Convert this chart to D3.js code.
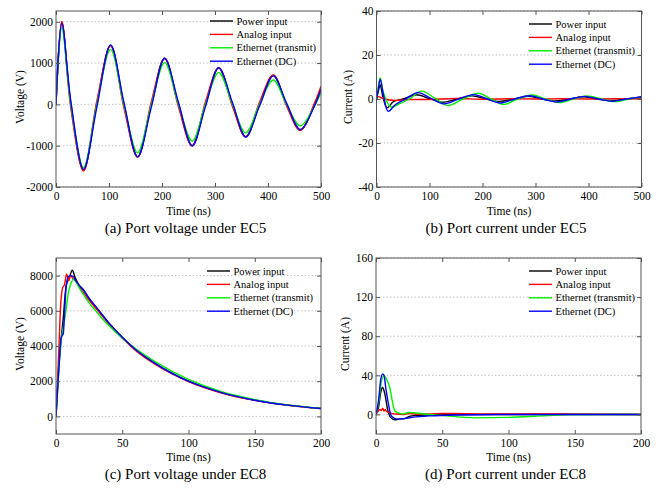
<!DOCTYPE html>
<html>
<head>
<meta charset="utf-8">
<script src="https://cdn.jsdelivr.net/npm/d3@7"></script>
<style>
  body { margin: 0; background: #fff; }
  svg { display: block; }
  svg text { font-family: "Liberation Serif", "DejaVu Serif", serif !important; fill: #000; }
</style>
</head>
<body>
<svg id="chart" width="661" height="489"></svg>
<script>
// series names / colours
var names = ["Power input", "Analog input", "Ethernet (transmit)", "Ethernet (DC)"];
var colors = ["#000000", "#ff0000", "#00ee00", "#0000ff"];

// (a) port voltage under EC5
var aTime   = [0, 11, 28, 52, 77, 103, 128, 154, 180, 205, 231, 257, 282, 307, 333, 358, 384, 410, 435, 461, 488, 500];
var aPower  = [0, 1990, 0, -1590, 0, 1430, 0, -1270, 0, 1110, 0, -1000, 0, 880, 0, -780, 0, 700, 0, -620, 0, 390];
var aAnalog = [0, 2010, -90, -1610, 80, 1420, -70, -1280, 70, 1120, -60, -1010, 60, 890, -50, -790, 50, 710, -40, -630, 40, 440];
var aEthTx  = [0, 1850, 0, -1530, 0, 1330, 0, -1170, 0, 1010, 0, -890, 0, 770, 0, -690, 0, 590, 0, -520, -30, 290];
var aEthDc  = [0, 1960, 80, -1570, -70, 1440, 60, -1270, -60, 1120, 50, -1000, -50, 890, 40, -790, -40, 690, 30, -610, -30, 370];

// (b) port current under EC5
var bPowerT  = [0, 3, 7, 12, 20, 32, 50, 75, 100, 124, 152, 180, 206, 232, 258, 285, 312, 338, 364, 390, 416, 443, 470, 500];
var bPowerV  = [0, 3, 6.5, 1, -4, -1.2, 0, 1.9, 0.2, -1.5, 0, 1.4, 0.1, -1.1, 0, 1.2, 0, -0.9, 0, 1.0, 0, -0.7, 0, 0.8];
var bAnalogT = [0, 5, 15, 30, 60, 100, 150, 200, 250, 300, 350, 400, 450, 500];
var bAnalogV = [1.2, 1.0, 0, -0.6, -0.3, -0.2, 0.2, -0.1, 0.1, 0, 0.1, 0, 0.1, 0];
var bEthTxT  = [0, 3, 7, 13, 27, 45, 62, 85, 110, 135, 163, 192, 216, 240, 266, 293, 319, 345, 371, 398, 424, 450, 476, 500];
var bEthTxV  = [0, 4.5, 9.7, 3, -3.6, -2, 0, 3.6, 0.4, -3.0, 0, 2.6, 0, -2.5, 0, 1.8, 0, -1.6, 0, 1.4, 0, -1.2, 0, 1.0];
var bEthDcT  = [0, 3, 7, 13, 22, 36, 55, 78, 102, 127, 155, 184, 209, 234, 261, 288, 314, 340, 366, 393, 419, 445, 472, 500];
var bEthDcV  = [0, 4, 9, 2, -5.6, -2.5, 0, 2.9, 0.4, -2.2, 0, 2.0, 0, -1.8, 0, 1.5, 0, -1.3, 0, 1.2, 0, -1.0, 0, 1.0];

// (c) port voltage under EC8
var cPowerT  = [0, 2, 5.5, 7.6, 10.3, 12.3, 14.4, 17, 20.7, 25, 30, 35, 40, 50, 60, 75, 100, 125, 150, 175, 200];
var cPowerV  = [0, 2800, 5600, 7400, 7950, 8300, 7900, 7500, 7200, 6700, 6200, 5750, 5300, 4500, 3800, 3000, 2000, 1350, 930, 640, 450];
var cAnalogT = [0, 2, 3.5, 5, 6.5, 8, 9.5, 11, 13, 15.6, 18, 21, 25, 30, 40, 50, 60, 75, 100, 125, 150, 175, 200];
var cAnalogV = [0, 3500, 6300, 7300, 7500, 8100, 7700, 8000, 7800, 7650, 7300, 7000, 6600, 6150, 5250, 4450, 3750, 2950, 1980, 1330, 910, 630, 440];
var cEthTxT  = [0, 2, 4, 6.9, 9.4, 11.5, 13.2, 15, 18, 21, 25, 30, 35, 40, 50, 60, 75, 100, 125, 150, 175, 200];
var cEthTxV  = [0, 2500, 4300, 5700, 7050, 7600, 7800, 7650, 7250, 6900, 6450, 6000, 5550, 5150, 4450, 3850, 3100, 2100, 1400, 950, 650, 450];
var cEthDcT  = [0, 2, 4, 5.5, 6.5, 7.6, 9.4, 11, 13, 15, 18, 21, 25, 30, 40, 50, 60, 75, 100, 125, 150, 175, 200];
var cEthDcV  = [0, 2500, 4500, 4700, 6000, 7300, 7950, 8000, 7950, 7700, 7400, 7150, 6700, 6250, 5300, 4500, 3800, 3000, 2000, 1350, 920, 640, 450];

// (d) port current under EC8
var dPowerT  = [0, 2, 3.5, 5, 6.5, 8.8, 11, 14.4, 18, 21, 25, 30, 40, 60, 100, 150, 200];
var dPowerV  = [0, 8, 22, 27.5, 22, 5, -3, -5.5, -4.5, -4.5, -2, -1, -0.5, 0, 0, 0, 0];
var dAnalogT = [0, 1.5, 3, 4, 5, 6, 7, 8, 10, 12, 15, 20, 25, 30, 40, 50, 60, 80, 100, 130, 200];
var dAnalogV = [0, 3, 5, 4, 6.5, 3.5, 5, 3, 2, 1, 0.5, 0, 1, 0.5, 0.5, 1, 1, 0.5, 0.5, 0.5, 0];
var dEthTxT  = [0, 2, 4, 6, 8, 10.6, 12.5, 14.4, 17, 20, 25, 30, 40, 50, 75, 100, 125, 150, 200];
var dEthTxV  = [0, 12, 33, 40, 36, 26, 12, 3.5, 1.5, 0.5, 2, 1.5, 0, -1, -3.5, -3, -1.5, 0, 0];
var dEthDcT  = [0, 2, 3.5, 5, 6, 7.5, 9.5, 11.3, 14, 17, 22, 30, 40, 60, 100, 150, 200];
var dEthDcV  = [0, 15, 35, 41.5, 40, 26, 10, -1, -4, -4.8, -4, -2.5, -1.5, -0.5, 0, 0, 0];

function zip(t, v) { return t.map(function(d, i) { return [d, v[i]]; }); }

var panels = [
  { id: "a", left: 56, right: 321, top: 11, bottom: 187, xMax: 500, xTicks: [0, 100, 200, 300, 400, 500],
    yDom: [-2000, 2260], yTicks: [-2000, -1000, 0, 1000, 2000], yLabel: "Voltage (V)", yLabelX: 23.5,
    caption: "(a) Port voltage under EC5", xLabY: 215, capY: 233, legX: 210, legY: 21, curve: d3.curveCatmullRom.alpha(0.5),
    series: [zip(aTime, aPower), zip(aTime, aAnalog), zip(aTime, aEthTx), zip(aTime, aEthDc)] },
  { id: "b", left: 376.5, right: 641.5, top: 11, bottom: 187, xMax: 500, xTicks: [0, 100, 200, 300, 400, 500],
    yDom: [-40, 40], yTicks: [-40, -20, 0, 20, 40], yLabel: "Current (A)", yLabelX: 352,
    caption: "(b) Port current under EC5", xLabY: 215, capY: 233, legX: 529, legY: 24, curve: d3.curveCatmullRom.alpha(0.5),
    series: [zip(bPowerT, bPowerV), zip(bAnalogT, bAnalogV), zip(bEthTxT, bEthTxV), zip(bEthDcT, bEthDcV)] },
  { id: "c", left: 56, right: 321, top: 258, bottom: 434, xMax: 200, xTicks: [0, 50, 100, 150, 200],
    yDom: [-1000, 9000], yTicks: [0, 2000, 4000, 6000, 8000], yLabel: "Voltage (V)", yLabelX: 23.5,
    caption: "(c) Port voltage under EC8", xLabY: 461, capY: 479, legX: 207, legY: 271, curve: d3.curveMonotoneX,
    series: [zip(cPowerT, cPowerV), zip(cAnalogT, cAnalogV), zip(cEthTxT, cEthTxV), zip(cEthDcT, cEthDcV)] },
  { id: "d", left: 376, right: 641, top: 258, bottom: 434, xMax: 200, xTicks: [0, 50, 100, 150, 200],
    yDom: [-20, 160], yTicks: [0, 40, 80, 120, 160], yLabel: "Current (A)", yLabelX: 349,
    caption: "(d) Port current under EC8", xLabY: 461, capY: 479, legX: 529, legY: 271, curve: d3.curveMonotoneX,
    series: [zip(dPowerT, dPowerV), zip(dAnalogT, dAnalogV), zip(dEthTxT, dEthTxV), zip(dEthDcT, dEthDcV)] }
];

var svg = d3.select("#chart");
var serif = "'Liberation Serif', 'DejaVu Serif', serif";

panels.forEach(function(p) {
  var w = p.right - p.left, h = p.bottom - p.top;
  var x = d3.scaleLinear().domain([0, p.xMax]).range([0, w]);
  var y = d3.scaleLinear().domain(p.yDom).range([h, 0]);
  var g = svg.append("g").attr("transform", "translate(" + p.left + "," + p.top + ")");

  // dotted y grid
  g.append("g").selectAll("line").data(p.yTicks).enter().append("line")
    .attr("x1", 0).attr("x2", w)
    .attr("y1", function(d) { return y(d); }).attr("y2", function(d) { return y(d); })
    .attr("stroke", "#aaa").attr("stroke-width", 0.7).attr("stroke-dasharray", "1.5,2");

  // curves
  g.append("clipPath").attr("id", "clip" + p.id).append("rect").attr("width", w).attr("height", h);
  var line = d3.line().x(function(d) { return x(d[0]); }).y(function(d) { return y(d[1]); }).curve(p.curve);
  g.append("g").attr("clip-path", "url(#clip" + p.id + ")")
    .selectAll("path").data(p.series).enter().append("path")
    .attr("d", line).attr("fill", "none")
    .attr("stroke", function(d, i) { return colors[i]; })
    .attr("stroke-width", 1.4);

  // axes, ticks inward on all four sides
  var fmt = function(d) { return d; };
  g.append("g").attr("transform", "translate(0," + h + ")")
    .call(d3.axisBottom(x).tickValues(p.xTicks).tickFormat(fmt).tickSize(-4).tickPadding(4.5));
  g.append("g").call(d3.axisTop(x).tickValues(p.xTicks).tickFormat("").tickSize(-4));
  g.append("g").call(d3.axisLeft(y).tickValues(p.yTicks).tickFormat(fmt).tickSize(-4).tickPadding(3));
  g.append("g").attr("transform", "translate(" + w + ",0)")
    .call(d3.axisRight(y).tickValues(p.yTicks).tickFormat("").tickSize(-4));
  g.selectAll(".domain").remove();
  g.selectAll("g").attr("font-family", serif);
  g.selectAll(".tick line").attr("stroke", "#555");
  g.selectAll(".tick text").attr("font-family", serif).attr("font-size", "11.5px").attr("fill", "#000");

  g.append("rect").attr("width", w).attr("height", h)
    .attr("fill", "none").attr("stroke", "#555").attr("stroke-width", 1);

  // legend
  var leg = svg.append("g");
  names.forEach(function(n, i) {
    var ly = p.legY + i * 13.4;
    leg.append("line").attr("x1", p.legX).attr("x2", p.legX + 23)
      .attr("y1", ly).attr("y2", ly).attr("stroke", colors[i]).attr("stroke-width", 1.4);
    leg.append("text").attr("x", p.legX + 26.5).attr("y", ly + 3.6)
      .attr("font-family", serif).attr("font-size", "10.5px").text(n);
  });

  // labels
  svg.append("text").attr("x", p.left + w / 2).attr("y", p.xLabY)
    .attr("font-family", serif).attr("text-anchor", "middle").attr("font-size", "11.5px").text("Time (ns)");
  svg.append("text").attr("transform", "translate(" + p.yLabelX + "," + (p.top + h / 2 - 2) + ") rotate(-90)")
    .attr("font-family", serif).attr("text-anchor", "middle").attr("font-size", "11.5px").text(p.yLabel);
  svg.append("text").attr("x", p.left + w / 2 - 3).attr("y", p.capY)
    .attr("font-family", serif).attr("text-anchor", "middle").attr("font-size", "15px").text(p.caption);
});
</script>
</body>
</html>
